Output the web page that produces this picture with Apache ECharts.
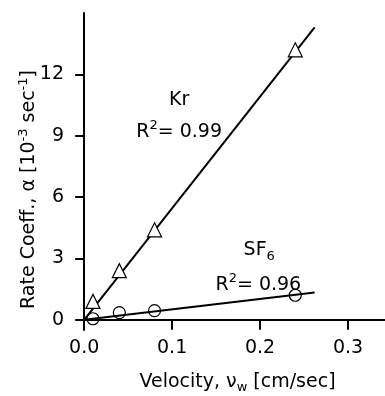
<!DOCTYPE html>
<html><head><meta charset="utf-8">
<script src="https://cdn.jsdelivr.net/npm/echarts@6/dist/echarts.min.js"></script>
<style>html,body{margin:0;padding:0;background:#fff}#c{width:385px;height:396px}</style>
</head><body><div id="c"></div>
<script>
var krPoints = [[0.01, 0.9], [0.04, 2.4], [0.08, 4.4], [0.24, 13.2]];
var sf6Points = [[0.01, 0.05], [0.04, 0.35], [0.08, 0.45], [0.24, 1.2]];
var krFit = [[0, 0], [0.262, 14.3]];
var sf6Fit = [[0, 0], [0.262, 1.33]];
var xTicks = [0, 0.1, 0.2, 0.3];
var yTicks = [0, 3, 6, 9, 12];
var annotations = [
  {value: [0.108, 10.75], text: '{n|Kr}'},
  {value: [0.108, 9.2], text: '{n|R}{sup|2}{n|= 0.99}'},
  {value: [0.199, 3.4], text: '{n|SF}{sub|6}'},
  {value: [0.198, 1.72], text: '{n|R}{sup|2}{n|= 0.96}'}
];
var FONT = 'DejaVu Sans';
var rich = {
  n: {fontFamily: FONT, fontSize: 19, color: '#000', lineHeight: 24},
  sup: {fontFamily: FONT, fontSize: 13, color: '#000', verticalAlign: 'top', padding: [0, 0, 9, 0], lineHeight: 24},
  sub: {fontFamily: FONT, fontSize: 13, color: '#000', padding: [12, 0, 0, 0], lineHeight: 24}
};
var chart = echarts.init(document.getElementById('c'));
chart.setOption({
  animation: false,
  grid: {left: 78, top: 13, width: 307, bottom: 66, containLabel: false, outerBoundsMode: 'none'},
  xAxis: {
    type: 'value', min: -0.007, max: 0.342, interval: 0.1,
    axisLine: {show: true, onZero: true, lineStyle: {color: '#000', width: 2}},
    axisTick: {show: true, length: 10, customValues: xTicks, lineStyle: {color: '#000', width: 2}},
    axisLabel: {customValues: xTicks, margin: 9, fontFamily: FONT, fontSize: 19, color: '#000',
      formatter: function (v) { return v.toFixed(1); }},
    splitLine: {show: false},
    name: '{n|Velocity, ν}{sub|w}{n| [cm/sec]}', nameLocation: 'middle', nameGap: 40,
    nameTextStyle: {rich: rich, padding: [0, 0, 0, 12]}
  },
  yAxis: {
    type: 'value', min: -0.5, max: 15, interval: 3,
    axisLine: {show: true, onZero: true, lineStyle: {color: '#000', width: 2}},
    axisTick: {show: true, length: 9, customValues: yTicks, lineStyle: {color: '#000', width: 2}},
    axisLabel: {customValues: yTicks, margin: 14, fontFamily: FONT, fontSize: 19, color: '#000'},
    splitLine: {show: false},
    name: '{n|Rate Coeff., α [10}{sup|-3}{n| sec}{sup|-1}{n|]}', nameLocation: 'middle', nameGap: 37,
    nameMoveOverlap: false,
    nameRotate: 90,
    nameTextStyle: {rich: rich, padding: [0, 36, 0, 0]}
  },
  series: [
    {type: 'line', data: krFit, symbol: 'none', lineStyle: {color: '#000', width: 2}, z: 2},
    {type: 'line', data: sf6Fit, symbol: 'none', lineStyle: {color: '#000', width: 2}, z: 2},
    {type: 'scatter', data: krPoints, symbol: 'triangle', symbolSize: 14,
      itemStyle: {color: '#fff', borderColor: '#000', borderWidth: 1.2, opacity: 1}, z: 3},
    {type: 'scatter', data: sf6Points, symbol: 'circle', symbolSize: 12,
      itemStyle: {color: 'rgba(255,255,255,0)', borderColor: '#000', borderWidth: 1.2, opacity: 1}, z: 3},
    {type: 'scatter', symbolSize: 0, silent: true, z: 4, itemStyle: {opacity: 1},
      data: annotations.map(function (a) { return {value: a.value, label: {formatter: a.text}}; }),
      label: {show: true, position: 'inside', color: '#000', textBorderWidth: 0, rich: rich}}
  ]
});
</script></body></html>
